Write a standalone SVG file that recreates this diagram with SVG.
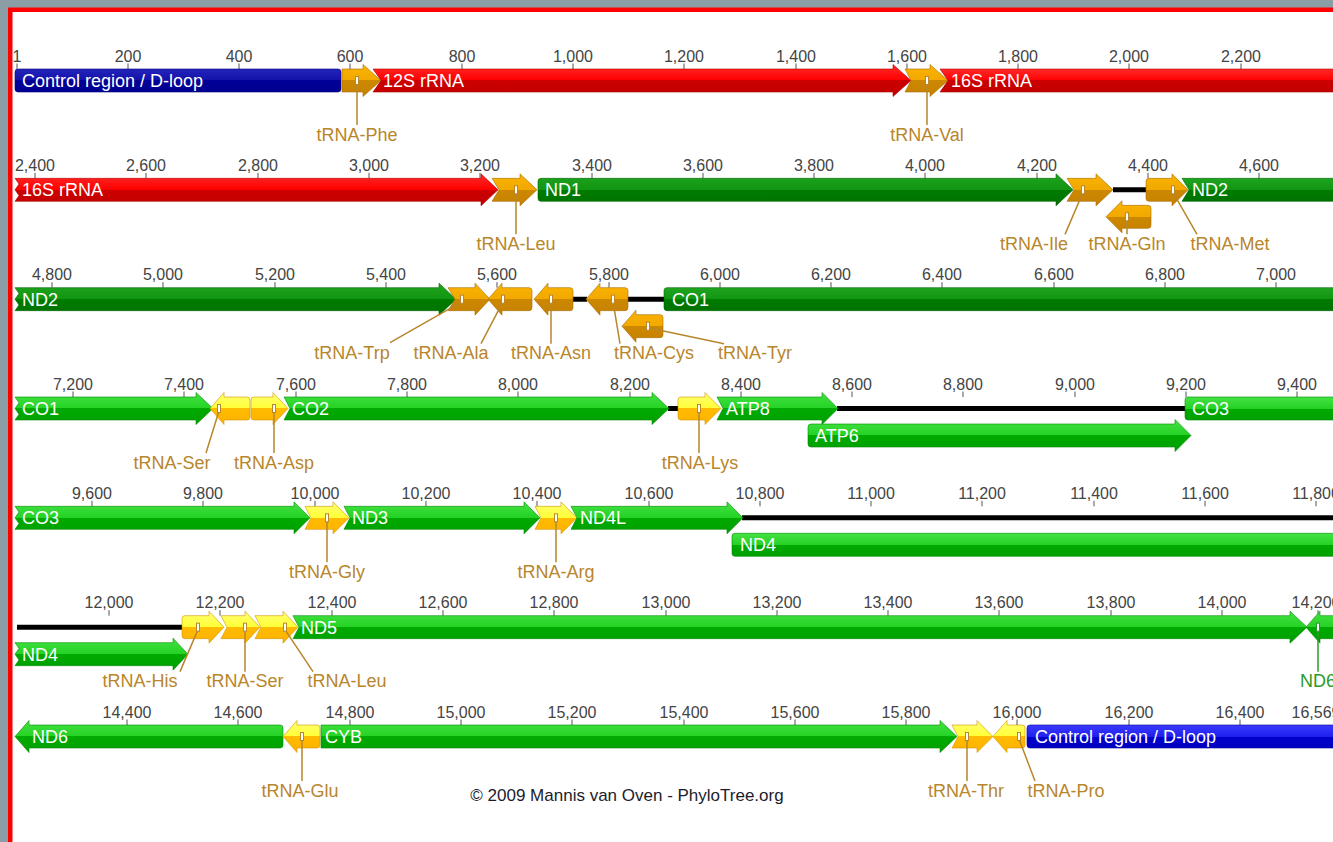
<svg xmlns="http://www.w3.org/2000/svg" width="1333" height="842" viewBox="0 0 1333 842">
<defs>
  <linearGradient id="gRedA" x1="0" y1="0" x2="0" y2="1">
    <stop offset="0" stop-color="#ff2a2a"/><stop offset="0.5" stop-color="#ff0000"/>
    <stop offset="0.5" stop-color="#cc0000"/><stop offset="1" stop-color="#c20000"/>
  </linearGradient>
  <linearGradient id="gBluA" x1="0" y1="0" x2="0" y2="1">
    <stop offset="0" stop-color="#2424bb"/><stop offset="0.5" stop-color="#1212aa"/>
    <stop offset="0.5" stop-color="#000099"/><stop offset="1" stop-color="#000090"/>
  </linearGradient>
  <linearGradient id="gGrnA" x1="0" y1="0" x2="0" y2="1">
    <stop offset="0" stop-color="#1fa41f"/><stop offset="0.5" stop-color="#129612"/>
    <stop offset="0.5" stop-color="#007c00"/><stop offset="1" stop-color="#007200"/>
  </linearGradient>
  <linearGradient id="gOrgA" x1="0" y1="0" x2="0" y2="1">
    <stop offset="0" stop-color="#fab400"/><stop offset="0.5" stop-color="#f2a800"/>
    <stop offset="0.5" stop-color="#cc8800"/><stop offset="1" stop-color="#c68200"/>
  </linearGradient>
  <linearGradient id="gGrnB" x1="0" y1="0" x2="0" y2="1">
    <stop offset="0" stop-color="#44e244"/><stop offset="0.5" stop-color="#24d224"/>
    <stop offset="0.5" stop-color="#00aa00"/><stop offset="1" stop-color="#00a000"/>
  </linearGradient>
  <linearGradient id="gYelB" x1="0" y1="0" x2="0" y2="1">
    <stop offset="0" stop-color="#ffff70"/><stop offset="0.5" stop-color="#ffff38"/>
    <stop offset="0.5" stop-color="#ffbb00"/><stop offset="1" stop-color="#ffb200"/>
  </linearGradient>
  <linearGradient id="gBluB" x1="0" y1="0" x2="0" y2="1">
    <stop offset="0" stop-color="#3a3aff"/><stop offset="0.5" stop-color="#2020ee"/>
    <stop offset="0.5" stop-color="#0000cc"/><stop offset="1" stop-color="#0000c2"/>
  </linearGradient>
  <style>
    .redA{fill:url(#gRedA);stroke:#b00000;stroke-width:0.6}
    .bluA{fill:url(#gBluA);stroke:#000080;stroke-width:0.6}
    .grnA{fill:url(#gGrnA);stroke:#006400;stroke-width:0.6}
    .orgA{fill:url(#gOrgA);stroke:#a86c00;stroke-width:0.6}
    .grnB{fill:url(#gGrnB);stroke:#008a00;stroke-width:0.6}
    .yelB{fill:url(#gYelB);stroke:#d09400;stroke-width:0.6}
    .bluB{fill:url(#gBluB);stroke:#0000a0;stroke-width:0.6}
    .gap{stroke:#000;stroke-width:5;fill:none}
    .tk{stroke:#555;stroke-width:1;fill:none}
    .num{font-family:"Liberation Sans",Arial,sans-serif;font-size:16px;fill:#444;text-anchor:middle}
    .in{font-family:"Liberation Sans",Arial,sans-serif;font-size:18px;fill:#fff}
    .tr{font-family:"Liberation Sans",Arial,sans-serif;font-size:18px;fill:#b8862b;text-anchor:middle}
    .ln{stroke:#b8862b;stroke-width:1.5;fill:none}
    .bx{fill:#fff;stroke:#b8862b;stroke-width:1}
    .trg{font-family:"Liberation Sans",Arial,sans-serif;font-size:18px;fill:#2a9a2a;text-anchor:middle}
    .lng{stroke:#2a9a2a;stroke-width:1.5;fill:none}
    .bxg{fill:#fff;stroke:#2a9a2a;stroke-width:1}
    .cr{font-family:"Liberation Sans",Arial,sans-serif;font-size:17px;fill:#1c1c2c;text-anchor:middle}
  </style>
</defs>

<!-- page frame -->
<rect x="0" y="0" width="1333" height="842" fill="#8b9ea6"/>
<rect x="8" y="7.5" width="1325" height="834.5" fill="#ff0000"/>
<rect x="12.5" y="12" width="1320.5" height="830" fill="#ffffff"/>

<!-- ROW 1 : 1 - 2,365 -->
<g id="row1">
  <g id="scale1">
    <path class="tk" d="M17,63.5V69M128,63.5V69M239,63.5V69M350,63.5V69M462,63.5V69M573,63.5V69M684,63.5V69M796,63.5V69M907,63.5V69M1018,63.5V69M1129,63.5V69M1241,63.5V69"/>
    <text class="num" x="17" y="61.5">1</text><text class="num" x="128" y="61.5">200</text><text class="num" x="239" y="61.5">400</text><text class="num" x="350" y="61.5">600</text><text class="num" x="462" y="61.5">800</text><text class="num" x="573" y="61.5">1,000</text><text class="num" x="684" y="61.5">1,200</text><text class="num" x="796" y="61.5">1,400</text><text class="num" x="907" y="61.5">1,600</text><text class="num" x="1018" y="61.5">1,800</text><text class="num" x="1129" y="61.5">2,000</text><text class="num" x="1241" y="61.5">2,200</text>
  </g>
  <g id="dloop1"><rect class="bluA" x="15" y="69" width="326" height="23" rx="3"/><text class="in" x="22" y="87">Control region / D-loop</text></g>
  <g id="trna-phe"><path class="orgA" d="M342,69H363V64.5L381,80.5L363,96.5V92H342Z"/></g>
  <g id="rrna12s"><path class="redA" d="M373,69H893V64.5L911,80.5L893,96.5V92H373L381,80.5Z"/><text class="in" x="383" y="87">12S rRNA</text></g>
  <g id="trna-val"><path class="orgA" d="M905,69H930V64.5L948,80.5L930,96.5V92H905L911,80.5Z"/></g>
  <g id="rrna16s-a"><path class="redA" d="M940,69H1340V92H940L948,80.5Z"/><text class="in" x="951" y="87">16S rRNA</text></g>
  <g class="connectors">
    <path class="ln" d="M357,84.5V125M927,84.5V125"/>
    <rect class="bx" x="355.5" y="76.5" width="3" height="8"/><rect class="bx" x="925.5" y="76.5" width="3" height="8"/>
  </g>
  <text class="tr" x="357" y="140.5">tRNA-Phe</text>
  <text class="tr" x="927" y="140.5">tRNA-Val</text>
</g>

<!-- ROW 2 -->
<g id="row2" transform="translate(0,109.33)">
  <g id="scale2">
    <path class="tk" d="M35,63.5V69M146,63.5V69M258,63.5V69M369,63.5V69M480,63.5V69M592,63.5V69M703,63.5V69M814,63.5V69M925,63.5V69M1037,63.5V69M1148,63.5V69M1259,63.5V69"/>
    <text class="num" x="35" y="61.5">2,400</text><text class="num" x="146" y="61.5">2,600</text><text class="num" x="258" y="61.5">2,800</text><text class="num" x="369" y="61.5">3,000</text><text class="num" x="480" y="61.5">3,200</text><text class="num" x="592" y="61.5">3,400</text><text class="num" x="703" y="61.5">3,600</text><text class="num" x="814" y="61.5">3,800</text><text class="num" x="925" y="61.5">4,000</text><text class="num" x="1037" y="61.5">4,200</text><text class="num" x="1148" y="61.5">4,400</text><text class="num" x="1259" y="61.5">4,600</text>
  </g>
  <g class="connectors"><path class="gap" d="M1113,80.5H1146"/></g>
  <g id="rrna16s-b"><path class="redA" d="M15,69H481V64.5L498,80.5L481,96.5V92H15L19,86.25L15,80.5L19,74.75Z"/><text class="in" x="22" y="87">16S rRNA</text></g>
  <g id="trna-leu1"><path class="orgA" d="M492,69H520V64.5L537,80.5L520,96.5V92H492L499,80.5Z"/></g>
  <g id="nd1"><path class="grnA" d="M541,69H1056V64.5L1073,80.5L1056,96.5V92H541Q538,92 538,89V72Q538,69 541,69Z"/><text class="in" x="545" y="87">ND1</text></g>
  <g id="trna-ile"><path class="orgA" d="M1067,69H1096V64.5L1113,80.5L1096,96.5V92H1067L1074,80.5Z"/></g>
  <g id="trna-gln"><path class="orgA" d="M1148,96H1122V91.5L1106,107.5L1122,123.5V119H1148Q1151,119 1151,116V99Q1151,96 1148,96Z"/></g>
  <g id="trna-met"><path class="orgA" d="M1149,69H1172V64.5L1188,80.5L1172,96.5V92H1149Q1146,92 1146,89V72Q1146,69 1149,69Z"/></g>
  <g id="nd2-a"><path class="grnA" d="M1182,69H1340V92H1182L1189,80.5Z"/><text class="in" x="1192" y="87">ND2</text></g>
  <g class="connectors">
    <path class="ln" d="M516,84.5V125M1083,83L1065,125M1127,111.5V125M1173,83L1197,125"/>
    <rect class="bx" x="514.5" y="76.5" width="3" height="8"/><rect class="bx" x="1081.5" y="76.5" width="3" height="8"/><rect class="bx" x="1125.5" y="103.5" width="3" height="8"/><rect class="bx" x="1171.5" y="76.5" width="3" height="8"/>
  </g>
  <text class="tr" x="516" y="140.5">tRNA-Leu</text>
  <text class="tr" x="1034" y="140.5">tRNA-Ile</text>
  <text class="tr" x="1127" y="140.5">tRNA-Gln</text>
  <text class="tr" x="1230" y="140.5">tRNA-Met</text>
</g>

<!-- ROW 3 -->
<g id="row3" transform="translate(0,218.67)">
  <g id="scale3">
    <path class="tk" d="M52,63.5V69M163,63.5V69M275,63.5V69M386,63.5V69M497,63.5V69M609,63.5V69M720,63.5V69M831,63.5V69M942,63.5V69M1054,63.5V69M1165,63.5V69M1276,63.5V69"/>
    <text class="num" x="52" y="61.5">4,800</text><text class="num" x="163" y="61.5">5,000</text><text class="num" x="275" y="61.5">5,200</text><text class="num" x="386" y="61.5">5,400</text><text class="num" x="497" y="61.5">5,600</text><text class="num" x="609" y="61.5">5,800</text><text class="num" x="720" y="61.5">6,000</text><text class="num" x="831" y="61.5">6,200</text><text class="num" x="942" y="61.5">6,400</text><text class="num" x="1054" y="61.5">6,600</text><text class="num" x="1165" y="61.5">6,800</text><text class="num" x="1276" y="61.5">7,000</text>
  </g>
  <g class="connectors"><path class="gap" d="M572,80.5H587M627,80.5H665"/></g>
  <g id="nd2-b"><path class="grnA" d="M15,69H439V64.5L456,80.5L439,96.5V92H15L19,86.25L15,80.5L19,74.75Z"/><text class="in" x="22" y="87">ND2</text></g>
  <g id="trna-trp"><path class="orgA" d="M448,69H475V64.5L490,80.5L475,96.5V92H448L455,80.5Z"/></g>
  <g id="trna-ala"><path class="orgA" d="M529,69H502V64.5L488,80.5L502,96.5V92H529Q532,92 532,89V72Q532,69 529,69Z"/></g>
  <g id="trna-asn"><path class="orgA" d="M570,69H548V64.5L534,80.5L548,96.5V92H570Q573,92 573,89V72Q573,69 570,69Z"/></g>
  <g id="trna-cys"><path class="orgA" d="M625,69H600V64.5L586,80.5L600,96.5V92H625Q628,92 628,89V72Q628,69 625,69Z"/></g>
  <g id="trna-tyr"><path class="orgA" d="M660,96H636V91.5L622,107.5L636,123.5V119H660Q663,119 663,116V99Q663,96 660,96Z"/></g>
  <g id="co1-a"><path class="grnA" d="M667,69H1340V92H667Q664,92 664,89V72Q664,69 667,69Z"/><text class="in" x="672" y="87">CO1</text></g>
  <g class="connectors">
    <path class="ln" d="M462,83L390,124M503,83L481,125M551,84.5V125M613,83L620,125M648,109L724,125"/>
    <rect class="bx" x="460.5" y="76.5" width="3" height="8"/><rect class="bx" x="501.5" y="76.5" width="3" height="8"/><rect class="bx" x="549.5" y="76.5" width="3" height="8"/><rect class="bx" x="611.5" y="76.5" width="3" height="8"/><rect class="bx" x="646.5" y="103.5" width="3" height="8"/>
  </g>
  <text class="tr" x="352" y="140.5">tRNA-Trp</text>
  <text class="tr" x="451" y="140.5">tRNA-Ala</text>
  <text class="tr" x="551" y="140.5">tRNA-Asn</text>
  <text class="tr" x="654" y="140.5">tRNA-Cys</text>
  <text class="tr" x="755" y="140.5">tRNA-Tyr</text>
</g>

<!-- ROW 4 -->
<g id="row4" transform="translate(0,328)">
  <g id="scale4">
    <path class="tk" d="M73,63.5V69M184,63.5V69M296,63.5V69M407,63.5V69M518,63.5V69M630,63.5V69M741,63.5V69M852,63.5V69M963,63.5V69M1075,63.5V69M1186,63.5V69M1297,63.5V69"/>
    <text class="num" x="73" y="61.5">7,200</text><text class="num" x="184" y="61.5">7,400</text><text class="num" x="296" y="61.5">7,600</text><text class="num" x="407" y="61.5">7,800</text><text class="num" x="518" y="61.5">8,000</text><text class="num" x="630" y="61.5">8,200</text><text class="num" x="741" y="61.5">8,400</text><text class="num" x="852" y="61.5">8,600</text><text class="num" x="963" y="61.5">8,800</text><text class="num" x="1075" y="61.5">9,000</text><text class="num" x="1186" y="61.5">9,200</text><text class="num" x="1297" y="61.5">9,400</text>
  </g>
  <g class="connectors"><path class="gap" d="M668,80.5H679M837,80.5H1187"/></g>
  <g id="co1-b"><path class="grnB" d="M15,69H196V64.5L213,80.5L196,96.5V92H15L19,86.25L15,80.5L19,74.75Z"/><text class="in" x="22" y="87">CO1</text></g>
  <g id="trna-ser1"><path class="yelB" d="M247,69H224V64.5L210,80.5L224,96.5V92H247Q250,92 250,89V72Q250,69 247,69Z"/></g>
  <g id="trna-asp"><path class="yelB" d="M254,69H273V64.5L288,80.5L273,96.5V92H254Q251,92 251,89V72Q251,69 254,69Z"/></g>
  <g id="co2"><path class="grnB" d="M284,69H652V64.5L669,80.5L652,96.5V92H284L290,80.5Z"/><text class="in" x="292" y="87">CO2</text></g>
  <g id="trna-lys"><path class="yelB" d="M681,69H705V64.5L721,80.5L705,96.5V92H681Q678,92 678,89V72Q678,69 681,69Z"/></g>
  <g id="atp8"><path class="grnB" d="M717,69H822V64.5L838,80.5L822,96.5V92H717L723,80.5Z"/><text class="in" x="726" y="87">ATP8</text></g>
  <g id="atp6"><path class="grnB" d="M811,96H1175V91.5L1191,107.5L1175,123.5V119H811Q808,119 808,116V99Q808,96 811,96Z"/><text class="in" x="815" y="114">ATP6</text></g>
  <g id="co3-a"><path class="grnB" d="M1188,69H1340V92H1188Q1185,92 1185,89V72Q1185,69 1188,69Z"/><text class="in" x="1192" y="87">CO3</text></g>
  <g class="connectors">
    <path class="ln" d="M219,83L206,125M274,84.5V125M699,84.5V125"/>
    <rect class="bx" x="217.5" y="76.5" width="3" height="8"/><rect class="bx" x="272.5" y="76.5" width="3" height="8"/><rect class="bx" x="697.5" y="76.5" width="3" height="8"/>
  </g>
  <text class="tr" x="172" y="140.5">tRNA-Ser</text>
  <text class="tr" x="274" y="140.5">tRNA-Asp</text>
  <text class="tr" x="700" y="140.5">tRNA-Lys</text>
</g>

<!-- ROW 5 -->
<g id="row5" transform="translate(0,437.33)">
  <g id="scale5">
    <path class="tk" d="M92,63.5V69M203,63.5V69M315,63.5V69M426,63.5V69M537,63.5V69M649,63.5V69M760,63.5V69M871,63.5V69M982,63.5V69M1094,63.5V69M1205,63.5V69M1316,63.5V69"/>
    <text class="num" x="92" y="61.5">9,600</text><text class="num" x="203" y="61.5">9,800</text><text class="num" x="315" y="61.5">10,000</text><text class="num" x="426" y="61.5">10,200</text><text class="num" x="537" y="61.5">10,400</text><text class="num" x="649" y="61.5">10,600</text><text class="num" x="760" y="61.5">10,800</text><text class="num" x="871" y="61.5">11,000</text><text class="num" x="982" y="61.5">11,200</text><text class="num" x="1094" y="61.5">11,400</text><text class="num" x="1205" y="61.5">11,600</text><text class="num" x="1316" y="61.5">11,800</text>
  </g>
  <g class="connectors"><path class="gap" d="M742,80.5H1340"/></g>
  <g id="co3-b"><path class="grnB" d="M15,69H294V64.5L310,80.5L294,96.5V92H15L19,86.25L15,80.5L19,74.75Z"/><text class="in" x="22" y="87">CO3</text></g>
  <g id="trna-gly"><path class="yelB" d="M305,69H333V64.5L349,80.5L333,96.5V92H305L311,80.5Z"/></g>
  <g id="nd3"><path class="grnB" d="M344,69H524V64.5L540,80.5L524,96.5V92H344L350,80.5Z"/><text class="in" x="352" y="87">ND3</text></g>
  <g id="trna-arg"><path class="yelB" d="M535,69H561V64.5L577,80.5L561,96.5V92H535L541,80.5Z"/></g>
  <g id="nd4l"><path class="grnB" d="M571,69H727V64.5L743,80.5L727,96.5V92H571L577,80.5Z"/><text class="in" x="580" y="87">ND4L</text></g>
  <g id="nd4-a"><path class="grnB" d="M735,96H1340V119H735Q732,119 732,116V99Q732,96 735,96Z"/><text class="in" x="740" y="114">ND4</text></g>
  <g class="connectors">
    <path class="ln" d="M327,84.5V125M556,84.5V125"/>
    <rect class="bx" x="325.5" y="76.5" width="3" height="8"/><rect class="bx" x="554.5" y="76.5" width="3" height="8"/>
  </g>
  <text class="tr" x="327" y="140.5">tRNA-Gly</text>
  <text class="tr" x="556" y="140.5">tRNA-Arg</text>
</g>

<!-- ROW 6 -->
<g id="row6" transform="translate(0,546.67)">
  <g id="scale6">
    <path class="tk" d="M109,63.5V69M220,63.5V69M332,63.5V69M443,63.5V69M554,63.5V69M666,63.5V69M777,63.5V69M888,63.5V69M999,63.5V69M1111,63.5V69M1222,63.5V69M1318,63.5V69"/>
    <text class="num" x="109" y="61.5">12,000</text><text class="num" x="220" y="61.5">12,200</text><text class="num" x="332" y="61.5">12,400</text><text class="num" x="443" y="61.5">12,600</text><text class="num" x="554" y="61.5">12,800</text><text class="num" x="666" y="61.5">13,000</text><text class="num" x="777" y="61.5">13,200</text><text class="num" x="888" y="61.5">13,400</text><text class="num" x="999" y="61.5">13,600</text><text class="num" x="1111" y="61.5">13,800</text><text class="num" x="1222" y="61.5">14,000</text><text class="num" x="1316" y="61.5">14,200</text>
  </g>
  <g class="connectors"><path class="gap" d="M17,80.5H183"/></g>
  <g id="nd4-b"><path class="grnB" d="M15,96H173V91.5L188,107.5L173,123.5V119H15L19,113.25L15,107.5L19,101.75Z"/><text class="in" x="22" y="114">ND4</text></g>
  <g id="trna-his"><path class="yelB" d="M185,69H209V64.5L224,80.5L209,96.5V92H185Q182,92 182,89V72Q182,69 185,69Z"/></g>
  <g id="trna-ser2"><path class="yelB" d="M221,69H245V64.5L260,80.5L245,96.5V92H221L227,80.5Z"/></g>
  <g id="trna-leu2"><path class="yelB" d="M255,69H283V64.5L298,80.5L283,96.5V92H255L261,80.5Z"/></g>
  <g id="nd5"><path class="grnB" d="M293,69H1290V64.5L1307,80.5L1290,96.5V92H293L299,80.5Z"/><text class="in" x="301" y="87">ND5</text></g>
  <g id="nd6-a"><path class="grnB" d="M1340,69H1320V64.5L1306,80.5L1320,96.5V92H1340Z"/></g>
  <g class="connectors">
    <path class="ln" d="M198,83L180,125M245,84.5V125M285,83L313,125"/>
    <rect class="bx" x="196.5" y="76.5" width="3" height="8"/><rect class="bx" x="243.5" y="76.5" width="3" height="8"/><rect class="bx" x="283.5" y="76.5" width="3" height="8"/>
    <path class="lng" d="M1318,84.5V125"/><rect class="bxg" x="1316.5" y="76.5" width="3" height="8"/>
  </g>
  <text class="tr" x="140" y="140.5">tRNA-His</text>
  <text class="tr" x="245" y="140.5">tRNA-Ser</text>
  <text class="tr" x="347" y="140.5">tRNA-Leu</text>
  <text class="trg" x="1318" y="140.5">ND6</text>
</g>

<!-- ROW 7 -->
<g id="row7" transform="translate(0,656)">
  <g id="scale7">
    <path class="tk" d="M127,63.5V69M238,63.5V69M350,63.5V69M461,63.5V69M572,63.5V69M684,63.5V69M795,63.5V69M906,63.5V69M1017,63.5V69M1129,63.5V69M1240,63.5V69"/>
    <text class="num" x="127" y="61.5">14,400</text><text class="num" x="238" y="61.5">14,600</text><text class="num" x="350" y="61.5">14,800</text><text class="num" x="461" y="61.5">15,000</text><text class="num" x="572" y="61.5">15,200</text><text class="num" x="684" y="61.5">15,400</text><text class="num" x="795" y="61.5">15,600</text><text class="num" x="906" y="61.5">15,800</text><text class="num" x="1017" y="61.5">16,000</text><text class="num" x="1129" y="61.5">16,200</text><text class="num" x="1240" y="61.5">16,400</text><text class="num" x="1316" y="61.5">16,569</text>
  </g>
  <g id="nd6-b"><path class="grnB" d="M280,69H29V64.5L15,80.5L29,96.5V92H280Q283,92 283,89V72Q283,69 280,69Z"/><text class="in" x="32" y="87">ND6</text></g>
  <g id="trna-glu"><path class="yelB" d="M317,69H297V64.5L283,80.5L297,96.5V92H317Q320,92 320,89V72Q320,69 317,69Z"/></g>
  <g id="cyb"><path class="grnB" d="M321,69H940V64.5L957,80.5L940,96.5V92H321Z"/><text class="in" x="325" y="87">CYB</text></g>
  <g id="trna-thr"><path class="yelB" d="M952,69H977V64.5L993,80.5L977,96.5V92H952L958,80.5Z"/></g>
  <g id="trna-pro"><path class="yelB" d="M1022,69H1007V64.5L993,80.5L1007,96.5V92H1022Q1025,92 1025,89V72Q1025,69 1022,69Z"/></g>
  <g id="dloop2"><path class="bluB" d="M1030,69H1340V92H1030Q1027,92 1027,89V72Q1027,69 1030,69Z"/><text class="in" x="1035" y="87">Control region / D-loop</text></g>
  <g class="connectors">
    <path class="ln" d="M302,84.5V125M967,84.5V125M1019,83L1035,125"/>
    <rect class="bx" x="300.5" y="76.5" width="3" height="8"/><rect class="bx" x="965.5" y="76.5" width="3" height="8"/><rect class="bx" x="1017.5" y="76.5" width="3" height="8"/>
  </g>
  <text class="tr" x="300" y="140.5">tRNA-Glu</text>
  <text class="tr" x="966" y="140.5">tRNA-Thr</text>
  <text class="tr" x="1066" y="140.5">tRNA-Pro</text>
</g>

<text class="cr" x="627" y="801">© 2009 Mannis van Oven - PhyloTree.org</text>
</svg>
